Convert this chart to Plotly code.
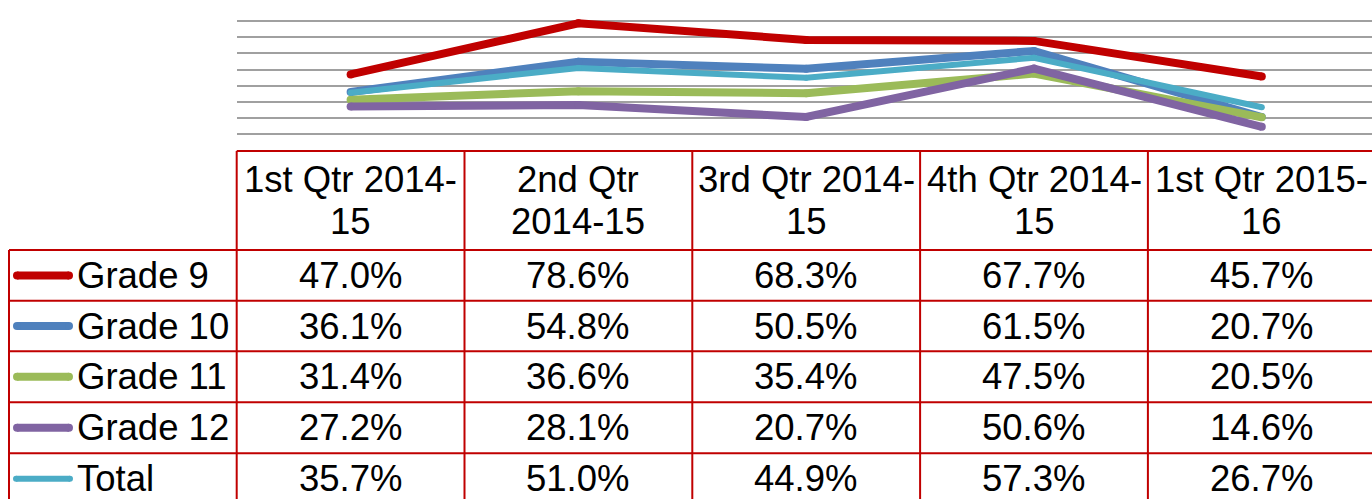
import plotly.graph_objects as go

# ---- data ----
quarters = ["1st Qtr 2014-15", "2nd Qtr 2014-15", "3rd Qtr 2014-15", "4th Qtr 2014-15", "1st Qtr 2015-16"]
header_lines = [["1st Qtr 2014-", "15"], ["2nd Qtr", "2014-15"], ["3rd Qtr 2014-", "15"],
                ["4th Qtr 2014-", "15"], ["1st Qtr 2015-", "16"]]
series_names = ["Grade 9", "Grade 10", "Grade 11", "Grade 12", "Total"]
grade9 = [47.0, 78.6, 68.3, 67.7, 45.7]
grade10 = [36.1, 54.8, 50.5, 61.5, 20.7]
grade11 = [31.4, 36.6, 35.4, 47.5, 20.5]
grade12 = [27.2, 28.1, 20.7, 50.6, 14.6]
total = [35.7, 51.0, 44.9, 57.3, 26.7]
series_values = [grade9, grade10, grade11, grade12, total]

# ---- styles ----
colors = ["#C00000", "#4F81BD", "#9BBB59", "#8064A2", "#4BACC6"]
widths = [8, 8, 8, 8, 6]
W, H = 1372, 499
FONT = "Liberation Sans, Arial, sans-serif"
FS = 36.5
RED = "#C00000"

def px(x):
    return x / W

def py(y):
    return 1 - y / H

col_left = 236.7
col_w = 227.8
label_left = 9
header_top = 151
row_tops = [250, 300.7, 351.3, 402.3, 453.3]
row_h = 50.8
plot_bottom = 150.5
px_per_pct = 1.619
y_max = 85

fig = go.Figure()
for name, vals, c, w in zip(series_names, series_values, colors, widths):
    fig.add_trace(go.Scatter(
        x=list(range(len(quarters))), y=vals, name=name, mode="lines+markers",
        line=dict(color=c, width=w),
        marker=dict(color=c, size=w, line=dict(width=0)),
        showlegend=False, hoverinfo="skip"))

x_range_max = -0.5 + (W - col_left) / col_w
y_top_px = plot_bottom - y_max * px_per_pct

shapes = []
ann = []

def hline(x0, x1, y):
    shapes.append(dict(type="line", xref="paper", yref="paper", x0=px(x0), x1=px(x1),
                       y0=py(y), y1=py(y), line=dict(color=RED, width=2), layer="above"))

def vline(x, y0, y1):
    shapes.append(dict(type="line", xref="paper", yref="paper", x0=px(x), x1=px(x),
                       y0=py(y0), y1=py(y1), line=dict(color=RED, width=2), layer="above"))

# table grid
hline(col_left, W + 5, header_top)
for rt in row_tops:
    hline(label_left, W + 5, rt)
vline(label_left, row_tops[0], H + 5)
for i in range(len(quarters)):
    vline(col_left + i * col_w, header_top, H + 5)

# headers
for i, lines in enumerate(header_lines):
    cx = col_left + (i + 0.5) * col_w
    for j, t in enumerate(lines):
        ann.append(dict(text=t, x=px(cx), y=py(179 + j * 42.5), xref="paper", yref="paper",
                        xanchor="center", yanchor="middle", showarrow=False,
                        font=dict(family=FONT, size=FS, color="black")))

# rows
for r, (name, vals, c, w) in enumerate(zip(series_names, series_values, colors, widths)):
    cy = row_tops[r] + row_h / 2
    # legend key
    k0, k1 = 13 + w / 2, 73 - w / 2
    shapes.append(dict(type="line", xref="paper", yref="paper", x0=px(k0), x1=px(k1),
                       y0=py(cy), y1=py(cy), line=dict(color=c, width=w), layer="above"))
    for kx in (k0, k1):
        shapes.append(dict(type="circle", xref="paper", yref="paper",
                           x0=px(kx - w / 2), x1=px(kx + w / 2),
                           y0=py(cy + w / 2), y1=py(cy - w / 2),
                           fillcolor=c, line=dict(width=0), layer="above"))
    ann.append(dict(text=name, x=px(75), y=py(cy), xref="paper", yref="paper",
                    xanchor="left", yanchor="middle", showarrow=False,
                    font=dict(family=FONT, size=FS, color="black")))
    for i, v in enumerate(vals):
        cx = col_left + (i + 0.5) * col_w
        ann.append(dict(text=f"{v:.1f}%", x=px(cx), y=py(cy), xref="paper", yref="paper",
                        xanchor="center", yanchor="middle", showarrow=False,
                        font=dict(family=FONT, size=FS, color="black")))

fig.update_layout(
    width=W, height=H, margin=dict(l=0, r=0, t=0, b=0),
    paper_bgcolor="white", plot_bgcolor="white",
    xaxis=dict(domain=[px(col_left), 1], range=[-0.5, x_range_max], showgrid=False,
               showticklabels=False, zeroline=False, showline=False, ticks="", fixedrange=True),
    yaxis=dict(domain=[py(plot_bottom), py(y_top_px)], range=[0, y_max], dtick=10,
               showgrid=True, gridcolor="#A0A0A0", gridwidth=2, showticklabels=False,
               zeroline=False, showline=False, ticks="", fixedrange=True),
    shapes=shapes, annotations=ann,
)

fig.write_html("out.html", config={"displayModeBar": False},
               post_script="document.body.style.margin='0';document.body.style.overflow='hidden';")
